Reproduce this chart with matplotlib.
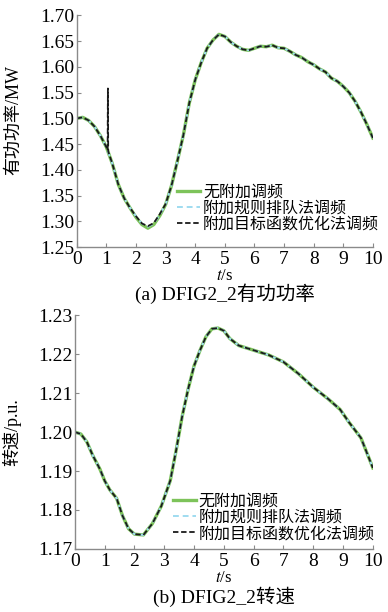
import matplotlib
matplotlib.use("Agg")
import matplotlib.pyplot as plt

plt.rcParams['font.family'] = ['Liberation Serif', 'Noto Sans CJK SC']
plt.rcParams['mathtext.fontset'] = 'stix'

# ---- data ----
t_p = [0.0, 0.2, 0.4, 0.6, 0.8, 1.0, 1.2, 1.4, 1.6, 1.8, 2.0, 2.2, 2.4, 2.6, 2.8,
       3.0, 3.2, 3.4, 3.6, 3.8, 4.0, 4.2, 4.4, 4.6, 4.8, 5.0, 5.2, 5.4, 5.6, 5.8,
       6.0, 6.2, 6.4, 6.6, 6.8, 7.0, 7.2, 7.4, 7.6, 7.8, 8.0, 8.2, 8.4, 8.6, 8.8,
       9.0, 9.2, 9.4, 9.6, 9.8, 10.0]
p_none = [1.500, 1.502, 1.496, 1.484, 1.466, 1.444, 1.412, 1.372, 1.345, 1.326,
          1.308, 1.294, 1.287, 1.294, 1.311, 1.333, 1.370, 1.418, 1.468, 1.530,
          1.575, 1.608, 1.636, 1.652, 1.663, 1.659, 1.648, 1.640, 1.634, 1.632,
          1.636, 1.640, 1.639, 1.642, 1.637, 1.636, 1.630, 1.623, 1.618, 1.610,
          1.604, 1.596, 1.590, 1.578, 1.572, 1.562, 1.550, 1.533, 1.512, 1.488, 1.462]
p_rule = [1.500, 1.502, 1.496, 1.484, 1.466, 1.444, 1.412, 1.372, 1.345, 1.326,
          1.310, 1.296, 1.290, 1.296, 1.313, 1.333, 1.370, 1.418, 1.468, 1.530,
          1.575, 1.608, 1.636, 1.652, 1.663, 1.659, 1.648, 1.640, 1.634, 1.632,
          1.636, 1.640, 1.639, 1.642, 1.637, 1.636, 1.630, 1.623, 1.618, 1.610,
          1.604, 1.596, 1.590, 1.578, 1.572, 1.562, 1.550, 1.533, 1.512, 1.488, 1.462]
t_opt = [0.0, 0.2, 0.4, 0.6, 0.8, 1.0, 1.04, 1.05, 1.06, 1.2, 1.4, 1.6, 1.8, 2.0,
         2.2, 2.4, 2.6, 2.8, 3.0, 3.2, 3.4, 3.6, 3.8, 4.0, 4.2, 4.4, 4.6, 4.8, 5.0,
         5.2, 5.4, 5.6, 5.8, 6.0, 6.2, 6.4, 6.6, 6.8, 7.0, 7.2, 7.4, 7.6, 7.8, 8.0,
         8.2, 8.4, 8.6, 8.8, 9.0, 9.2, 9.4, 9.6, 9.8, 10.0]
p_opt = [1.500, 1.502, 1.496, 1.484, 1.466, 1.444, 1.438, 1.558, 1.436, 1.412,
         1.372, 1.345, 1.326, 1.310, 1.296, 1.291, 1.297, 1.314, 1.334, 1.370,
         1.418, 1.468, 1.530, 1.575, 1.608, 1.636, 1.652, 1.663, 1.659, 1.648,
         1.640, 1.634, 1.632, 1.636, 1.640, 1.639, 1.642, 1.637, 1.636, 1.630,
         1.623, 1.618, 1.610, 1.604, 1.596, 1.590, 1.578, 1.572, 1.562, 1.550,
         1.533, 1.512, 1.488, 1.462]

t_w = [0.0, 0.2, 0.4, 0.6, 0.84, 1.0, 1.17, 1.4, 1.6, 1.8, 2.0, 2.3, 2.6, 2.9,
       3.2, 3.4, 3.6, 3.8, 4.0, 4.2, 4.4, 4.6, 4.8, 5.0, 5.2, 5.5, 6.0, 6.5,
       7.0, 7.5, 8.0, 8.5, 8.9, 9.2, 9.6, 10.0]
w_all = [1.2000, 1.1995, 1.1975, 1.1940, 1.1905, 1.1875, 1.1852, 1.1830, 1.1785,
         1.1752, 1.1738, 1.1736, 1.1765, 1.1810, 1.1875, 1.1954, 1.2040, 1.2110,
         1.2170, 1.2210, 1.2245, 1.2265, 1.2267, 1.2260, 1.2240, 1.2222, 1.2210,
         1.2198, 1.2180, 1.2150, 1.2115, 1.2085, 1.2058, 1.2025, 1.1985, 1.1908]

labels = ['无附加调频', '附加规则排队法调频', '附加目标函数优化法调频']
xticks = list(range(0, 11))
yticks_p = [1.25, 1.30, 1.35, 1.40, 1.45, 1.50, 1.55, 1.60, 1.65, 1.70]
yticks_w = [1.17, 1.18, 1.19, 1.20, 1.21, 1.22, 1.23]

green = '#7dc35a'
cyan = '#9fdcf0'
black = '#1a1a1a'
spine_c = '#8a8a8a'

fig = plt.figure(figsize=(3.88, 6.12), dpi=100)
ax1 = fig.add_axes([0.198, 0.596, 0.763, 0.379])
ax2 = fig.add_axes([0.193, 0.103, 0.768, 0.382])


def style(ax, yticks, fmt):
    for s in ['top', 'right']:
        ax.spines[s].set_visible(False)
    for s in ['left', 'bottom']:
        ax.spines[s].set_color(spine_c)
        ax.spines[s].set_linewidth(1.0)
    ax.set_xlim(0, 10)
    ax.set_xticks(xticks)
    ax.set_xticklabels([str(x) for x in xticks])
    ax.set_yticks(yticks)
    ax.set_yticklabels([fmt % v for v in yticks])
    ax.tick_params(direction='in', length=3, color=spine_c, labelsize=14, pad=2)
    ax.tick_params(axis='x', pad=3)


leg_kw = dict(loc='upper left', frameon=False, fontsize=11.5, handlelength=1.4,
              handletextpad=0.2, labelspacing=0.0, borderaxespad=0, borderpad=0)

# top
ax1.plot(t_p, p_none, color=green, lw=2.4, label=labels[0])
ax1.plot(t_p, p_rule, color=cyan, lw=1.4, ls=(0, (3, 2)), label=labels[1])
ax1.plot(t_opt, p_opt, color=black, lw=1.3, ls=(0, (3, 1.5)), label=labels[2])
ax1.set_ylim(1.25, 1.70)
style(ax1, yticks_p, '%.2f')
ax1.set_xlabel('$t$/s', fontsize=12, labelpad=0)
ax1.set_ylabel('有功功率/MW', fontsize=13)
ax1.yaxis.set_label_coords(-0.185, 0.55)
ax1.legend(bbox_to_anchor=(0.34, 0.27), **leg_kw)
ax1.text(0.5, -0.2, '(a) DFIG2_2有功功率', transform=ax1.transAxes,
         ha='center', va='center', fontsize=14)

# bottom
ax2.plot(t_w, w_all, color=green, lw=2.4, label=labels[0])
ax2.plot(t_w, w_all, color=cyan, lw=1.4, ls=(0, (3, 2)), label=labels[1])
ax2.plot(t_w, w_all, color=black, lw=1.3, ls=(0, (3, 1.5)), label=labels[2])
ax2.set_ylim(1.17, 1.23)
style(ax2, yticks_w, '%.2f')
ax2.set_xlabel('$t$/s', fontsize=12, labelpad=0)
ax2.set_ylabel('转速/p.u.', fontsize=13)
ax2.yaxis.set_label_coords(-0.18, 0.5)
ax2.legend(bbox_to_anchor=(0.33, 0.235), **leg_kw)
ax2.text(0.5, -0.205, '(b) DFIG2_2转速', transform=ax2.transAxes,
         ha='center', va='center', fontsize=14)

fig.savefig('out.png', dpi=100, facecolor='white')
